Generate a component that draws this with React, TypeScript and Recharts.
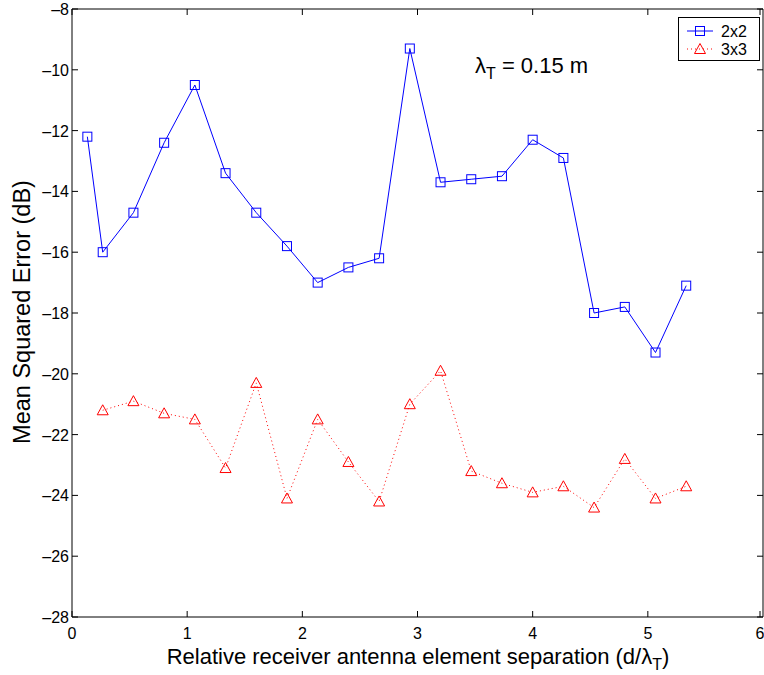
import { LineChart, Line, XAxis, YAxis, Legend } from 'recharts';

const FONT = '"Liberation Sans", Arial, Helvetica, sans-serif';

// d / lambda_T
const sep2x2 = [0.1333, 0.2667, 0.5333, 0.8, 1.0667, 1.3333, 1.6, 1.8667, 2.1333, 2.4, 2.6667,
    2.9333, 3.2, 3.4667, 3.7333, 4.0, 4.2667, 4.5333, 4.8, 5.0667, 5.3333];
const mse2x2 = [-12.2, -16.0, -14.7, -12.4, -10.5, -13.4, -14.7, -15.8, -17.0, -16.5, -16.2,
    -9.3, -13.7, -13.6, -13.5, -12.3, -12.9, -18.0, -17.8, -19.3, -17.1];

const sep3x3 = [0.2667, 0.5333, 0.8, 1.0667, 1.3333, 1.6, 1.8667, 2.1333, 2.4, 2.6667,
    2.9333, 3.2, 3.4667, 3.7333, 4.0, 4.2667, 4.5333, 4.8, 5.0667, 5.3333];
const mse3x3 = [-21.2, -20.9, -21.3, -21.5, -23.1, -20.3, -24.1, -21.5, -22.9, -24.2,
    -21.0, -19.9, -23.2, -23.6, -23.9, -23.7, -24.4, -22.8, -24.1, -23.7];

const xTicks = [0, 1, 2, 3, 4, 5, 6];
const yTicks = [-28, -26, -24, -22, -20, -18, -16, -14, -12, -10, -8];

const data2x2 = sep2x2.map((x, i) => ({ x, y: mse2x2[i] }));
const data3x3 = sep3x3.map((x, i) => ({ x, y: mse3x3[i] }));

const fmt = (v: number) => (v < 0 ? `\u2013${Math.abs(v)}` : `${v}`);

const BottomTick = ({ x, y, payload }: any) => (
    <g>
        <line x1={x} y1={y} x2={x} y2={y - 6} stroke="#000" />
        <text x={x} y={y + 22} textAnchor="middle" fontSize={16} fontFamily={FONT} fill="#000">{payload.value}</text>
    </g>
);
const TopTick = ({ x, y }: any) => <line x1={x} y1={y} x2={x} y2={y + 6} stroke="#000" />;
const LeftTick = ({ x, y, payload }: any) => (
    <g>
        <line x1={x} y1={y} x2={x + 6} y2={y} stroke="#000" />
        <text x={x - 3} y={y + 6} textAnchor="end" fontSize={16} fontFamily={FONT} fill="#000">{fmt(payload.value)}</text>
    </g>
);
const RightTick = ({ x, y }: any) => <line x1={x} y1={y} x2={x - 6} y2={y} stroke="#000" />;

const SquareDot = ({ cx, cy, index }: any) => (
    <rect key={`sq-${index}`} x={cx - 4.5} y={cy - 4.5} width={9} height={9} fill="none" stroke="#0000ff" strokeWidth={1} />
);
const TriDot = ({ cx, cy, index }: any) => (
    <path key={`tr-${index}`} d={`M${cx},${cy - 5.5} L${cx + 5.5},${cy + 4.5} L${cx - 5.5},${cy + 4.5} Z`}
        fill="none" stroke="#ff0000" strokeWidth={1} />
);

const LegendBox = () => (
    <div style={{ width: 82, height: 44, border: '1px solid #000', boxSizing: 'border-box', background: '#fff' }}>
        <svg width={80} height={42} style={{ display: 'block' }}>
            <line x1={8} y1={13} x2={34} y2={13} stroke="#0000ff" />
            <rect x={16.5} y={8.5} width={9} height={9} fill="none" stroke="#0000ff" />
            <text x={42} y={18.5} fontSize={16} fontFamily={FONT}>2x2</text>
            <line x1={8} y1={31} x2={34} y2={31} stroke="#ff0000" strokeDasharray="1 3" />
            <path d="M21,25.5 L26.5,35.5 L15.5,35.5 Z" fill="none" stroke="#ff0000" />
            <text x={42} y={36.5} fontSize={16} fontFamily={FONT}>3x3</text>
        </svg>
    </div>
);

export default function App() {
    return (
        <div style={{ position: 'absolute', left: 0, top: 0, width: 764, height: 675, background: '#fff' }}>
            <LineChart width={764} height={675} margin={{ top: 0, right: 0, bottom: 0, left: 0 }}>
                <XAxis xAxisId="b" type="number" dataKey="x" domain={[0, 6]} ticks={xTicks} height={58}
                    tickSize={0} tickMargin={0} tickLine={false} axisLine={{ stroke: '#000' }} tick={BottomTick} allowDataOverflow />
                <XAxis xAxisId="t" orientation="top" type="number" dataKey="x" domain={[0, 6]} ticks={xTicks} height={9}
                    tickSize={0} tickMargin={0} tickLine={false} axisLine={{ stroke: '#000' }} tick={TopTick} allowDataOverflow />
                <YAxis yAxisId="l" type="number" domain={[-28, -8]} ticks={yTicks} width={72}
                    tickSize={0} tickMargin={0} tickLine={false} axisLine={{ stroke: '#000' }} tick={LeftTick} allowDataOverflow />
                <YAxis yAxisId="r" orientation="right" type="number" domain={[-28, -8]} ticks={yTicks} width={1}
                    tickSize={0} tickMargin={0} tickLine={false} axisLine={{ stroke: '#000' }} tick={RightTick} allowDataOverflow />
                <Line xAxisId="b" yAxisId="l" data={data2x2} dataKey="y" name="2x2" stroke="#0000ff" strokeWidth={1}
                    dot={SquareDot} activeDot={false} isAnimationActive={false} />
                <Line xAxisId="b" yAxisId="l" data={data3x3} dataKey="y" name="3x3" stroke="#ff0000" strokeWidth={1}
                    strokeDasharray="1 3" dot={TriDot} activeDot={false} isAnimationActive={false} />
                <Legend layout="horizontal" verticalAlign="middle" align="center" content={LegendBox}
                    wrapperStyle={{ position: 'absolute', left: 678, top: 17, width: 82, height: 44 }} />
            </LineChart>
            <svg width={764} height={675} style={{ position: 'absolute', left: 0, top: 0, pointerEvents: 'none' }}>
                <text x={418} y={664} textAnchor="middle" fontSize={22} fontFamily={FONT}>
                    Relative receiver antenna element separation (d/λ<tspan dy={6} fontSize={16}>T</tspan><tspan dy={-6}>)</tspan>
                </text>
                <text transform="translate(30,312) rotate(-90)" textAnchor="middle" fontSize={23.5} fontFamily={FONT}>
                    Mean Squared Error (dB)
                </text>
                <text x={475} y={73} fontSize={22} fontFamily={FONT}>
                    λ<tspan dy={6} fontSize={16}>T</tspan><tspan dy={-6}> = 0.15 m</tspan>
                </text>
            </svg>
        </div>
    );
}
